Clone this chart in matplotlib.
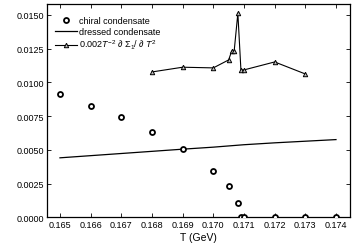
import matplotlib
matplotlib.use("Agg")
import matplotlib.pyplot as plt

plt.rcParams['font.family'] = ['Liberation Sans', 'DejaVu Sans']
plt.rcParams['mathtext.fontset'] = 'custom'
plt.rcParams['mathtext.rm'] = 'Liberation Sans'
plt.rcParams['mathtext.it'] = 'Liberation Sans:italic'

# chiral condensate (open circles)
t_chiral = [0.165, 0.166, 0.167, 0.168, 0.169, 0.170, 0.1705, 0.1708,
            0.1709, 0.1710, 0.172, 0.173, 0.174]
chiral = [0.00912, 0.00826, 0.00740, 0.00630, 0.00508, 0.00345, 0.00232,
          0.00110, 0.0, 0.0, 0.0, 0.0, 0.0]

# dressed condensate (solid line)
t_dressed = [0.165, 0.166, 0.167, 0.168, 0.169, 0.170, 0.171, 0.172, 0.173, 0.174]
dressed = [0.00441, 0.00457, 0.00473, 0.00489, 0.00505, 0.00520, 0.00538,
           0.00552, 0.00564, 0.00576]

# 0.002 T^-2 dSigma1/dT^2 (triangles)
t_sigma = [0.168, 0.169, 0.170, 0.1705, 0.1706, 0.17068, 0.1708, 0.1709,
           0.1710, 0.172, 0.173]
sigma = [0.01077, 0.01112, 0.01107, 0.01166, 0.01232, 0.01232, 0.01511,
         0.01092, 0.01092, 0.01151, 0.01062]

xticks = [0.165, 0.166, 0.167, 0.168, 0.169, 0.170, 0.171, 0.172, 0.173, 0.174]
yticks = [0.0, 0.0025, 0.0050, 0.0075, 0.0100, 0.0125, 0.0150]

fig = plt.figure(figsize=(3.54, 2.51), dpi=100)
ax = fig.add_axes([0.133, 0.130, 0.856, 0.850])

ax.plot(t_chiral, chiral, 'o', ls='none', mfc='white', mec='black',
        ms=3.6, mew=1.3, label='chiral condensate', zorder=3)
ax.plot(t_dressed, dressed, '-', color='black', lw=0.9,
        label='dressed condensate')
ax.plot(t_sigma, sigma, '^-', color='black', lw=0.8, ms=3.2, mew=0.7,
        mfc='#bbbbbb', mec='black',
        label=r'$0.002T^{-2}\ \partial\ \Sigma_1/\ \partial\ T^2$')

ax.set_xlim(0.16458, 0.17446)
ax.set_ylim(0.0, 0.0158)
ax.set_xticks(xticks)
ax.set_xticklabels(['%.3f' % v for v in xticks])
ax.set_yticks(yticks)
ax.set_yticklabels(['%.4f' % v for v in yticks])
ax.tick_params(direction='in', length=3, width=0.6, labelsize=6.5,
               top=True, right=True, pad=2)
for s in ax.spines.values():
    s.set_linewidth(0.9)

ax.set_xlabel('T (GeV)', fontsize=7.5, labelpad=2)

ax.legend(loc='upper left', frameon=False, fontsize=6.5, handlelength=2.5,
          handletextpad=0.2, borderaxespad=0.3, labelspacing=0.25,
          bbox_to_anchor=(0.005, 0.975))

fig.savefig('out.png', dpi=100)
